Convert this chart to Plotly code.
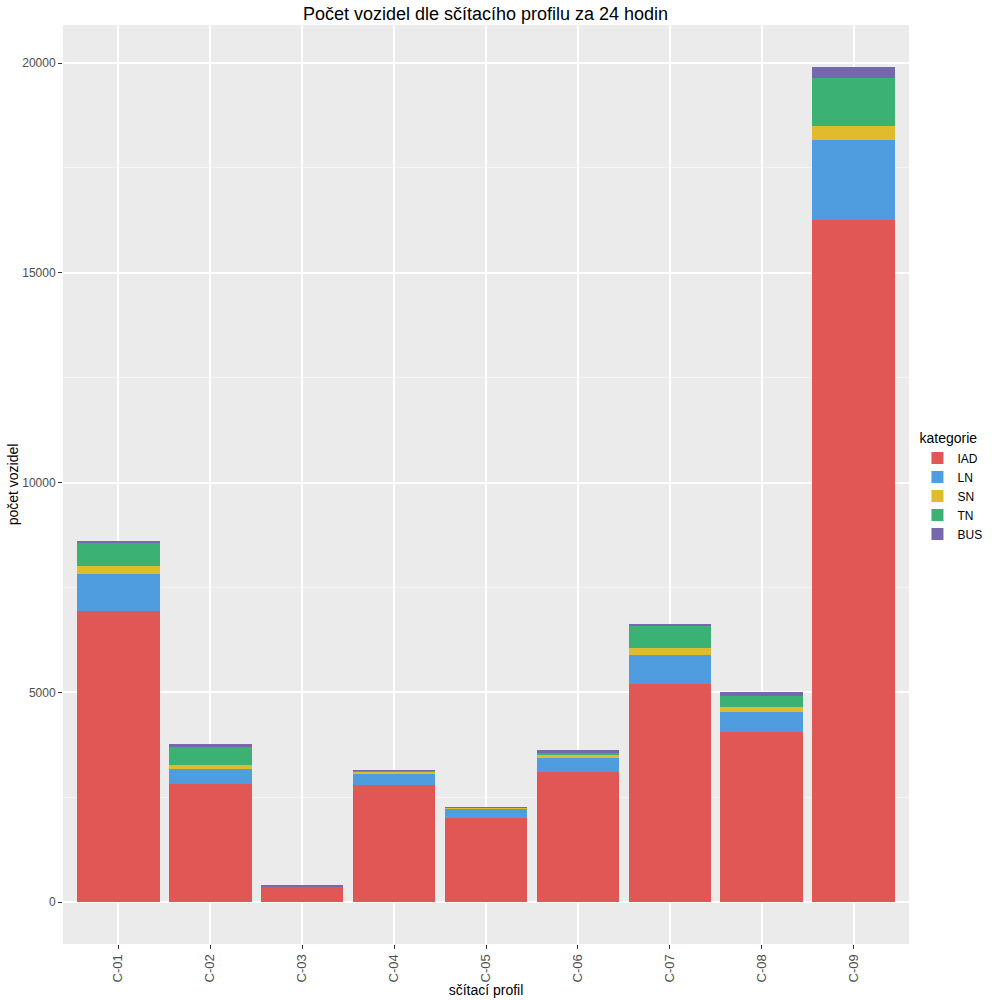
import plotly.graph_objects as go

profiles = ["C-01", "C-02", "C-03", "C-04", "C-05", "C-06", "C-07", "C-08", "C-09"]
categories = ["IAD", "LN", "SN", "TN", "BUS"]
iad = [6937, 2830, 365, 2789, 2019, 3099, 5197, 4052, 16257]
ln = [882, 334, 15, 262, 222, 334, 691, 493, 1907]
sn = [198, 110, 2, 64, 5, 88, 167, 110, 334]
tn = [565, 446, 5, 25, 5, 25, 524, 272, 1144]
bus = [25, 40, 20, 10, 5, 79, 48, 79, 270]
colors = ["#E15756", "#4F9CDF", "#E0BB2B", "#3BB273", "#7768AE"]

series = [iad, ln, sn, tn, bus]

fig = go.Figure()
for name, vals, col in zip(categories, series, colors):
    fig.add_trace(go.Bar(x=profiles, y=vals, name=name, marker=dict(color=col, line=dict(width=0)),
                         width=0.9))

font = "Liberation Sans, Arial, sans-serif"
fig.update_layout(
    width=1000, height=1000, autosize=False,
    barmode="stack",
    paper_bgcolor="white", plot_bgcolor="#EBEBEB",
    margin=dict(l=63, r=91, t=25, b=56, autoexpand=False),
    title=dict(text="Počet vozidel dle sčítacího profilu za 24 hodin", x=0.4855, xanchor="center",
               xref="container", yref="container",
               y=0.986, yanchor="middle", automargin=False,
               font=dict(family=font, size=18, color="black")),
    font=dict(family=font),
    legend=dict(traceorder="normal", x=1.01, xanchor="left", y=0.497, yanchor="middle",
                title=dict(text="kategorie", font=dict(size=14, color="black")),
                font=dict(size=12, color="black"), itemsizing="constant", tracegroupgap=0,
                bgcolor="white"),
    showlegend=True,
)
fig.update_xaxes(
    range=[-0.6, 8.6], showgrid=True, gridcolor="white", gridwidth=1.5,
    tickangle=-90, ticks="outside", ticklen=4, tickcolor="#333333",
    tickfont=dict(family=font, size=13, color="#4D4D4D"),
    title=dict(text="sčítací profil", font=dict(family=font, size=14, color="black"), standoff=2),
    zeroline=False, showline=False, automargin=False,
)
fig.update_yaxes(
    range=[-995, 20906], dtick=5000, tick0=0, tickformat="d", showgrid=True, gridcolor="white", gridwidth=1.5,
    ticks="outside", ticklen=4, tickcolor="#333333",
    tickfont=dict(family=font, size=12, color="#4D4D4D"),
    title=dict(text="počet vozidel", font=dict(family=font, size=14, color="black"), standoff=0),
    zeroline=False, showline=False, automargin=False,
    minor=dict(dtick=2500, tick0=0, showgrid=True, gridcolor="#F4F4F4", gridwidth=0.7),
)

fig.write_html("out.html", config={"displayModeBar": False},
               post_script="document.body.style.margin='0';")
